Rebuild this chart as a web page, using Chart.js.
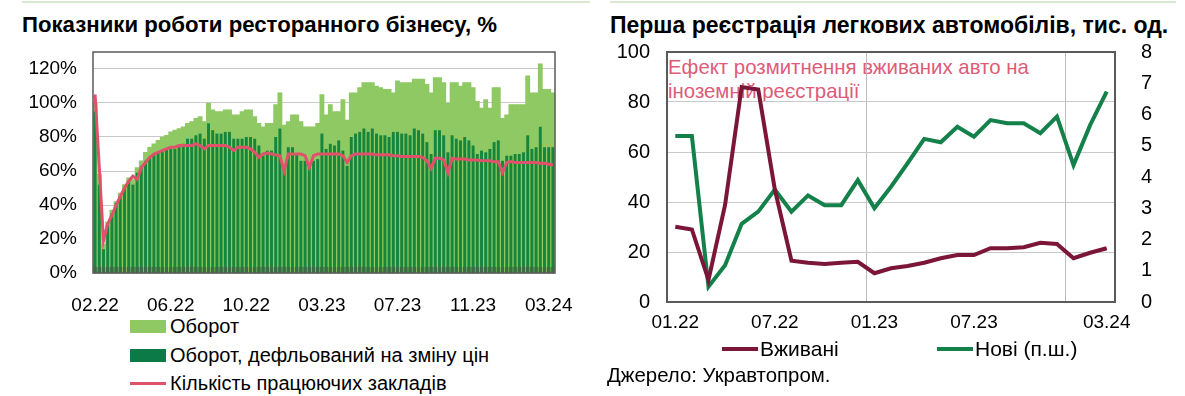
<!DOCTYPE html>
<html lang="uk">
<head>
<meta charset="utf-8">
<script src="https://cdn.jsdelivr.net/npm/chart.js@4.4.1/dist/chart.umd.min.js"></script>
<style>
  body { margin: 0; width: 1185px; height: 396px; background: #fff; position: relative; overflow: hidden;
         font-family: "Liberation Sans", Arial, sans-serif; color: #000; }
  .abs { position: absolute; white-space: nowrap; }
  .topline { top: 1px; height: 2px; background: #d8e9cf; }
  .title { font-weight: bold; line-height: 26px; }
  .leg { font-size: 20px; line-height: 22px; }
  .sw { position: absolute; }
  .note { font-size: 20.4px; line-height: 24px; color: #de5b78; }
</style>
</head>
<body>
<div class="abs topline" style="left:22px; width:568px;"></div>
<div class="abs topline" style="left:610px; width:566px;"></div>

<div class="abs title" style="left:22px; top:12px; font-size:22.2px;">Показники роботи ресторанного бізнесу, %</div>
<div class="abs title" style="left:610px; top:12px; font-size:23px;">Перша реєстрація легкових автомобілів, тис. од.</div>

<div class="abs" style="left:0; top:40px; width:580px; height:275px;">
  <canvas id="chart-rest" width="580" height="275"></canvas>
</div>

<div class="abs note" style="left:668px; top:55px;">Ефект розмитнення вживаних авто на<br>іноземній реєстрації</div>
<div class="abs" style="left:600px; top:40px; width:585px; height:298px;">
  <canvas id="chart-cars" width="585" height="298"></canvas>
</div>

<!-- left legend -->
<div class="abs leg" style="left:130px; top:315px;">
  <span class="sw" style="left:0; top:5px; width:36px; height:13px; background:#8ec963;"></span>
  <span style="margin-left:40px;">Оборот</span>
</div>
<div class="abs leg" style="left:130px; top:344px;">
  <span class="sw" style="left:0; top:5px; width:36px; height:13px; background:#0b7a47;"></span>
  <span style="margin-left:40px;">Оборот, дефльований на зміну цін</span>
</div>
<div class="abs leg" style="left:130px; top:372px;">
  <span class="sw" style="left:0; top:10px; width:36px; height:3px; background:#e0516c;"></span>
  <span style="margin-left:40px;">Кількість працюючих закладів</span>
</div>

<!-- right legend -->
<div class="abs leg" style="left:722px; top:338px; font-size:21px;">
  <span class="sw" style="left:0; top:9px; width:36px; height:4px; background:#7b1638;"></span>
  <span style="margin-left:38px;">Вживані</span>
</div>
<div class="abs leg" style="left:937px; top:338px; font-size:21px;">
  <span class="sw" style="left:0; top:9px; width:36px; height:4px; background:#14804a;"></span>
  <span style="margin-left:38px;">Нові (п.ш.)</span>
</div>
<div class="abs leg" style="left:607px; top:364px; font-size:20.4px;">Джерело: Укравтопром.</div>

<script>
// ---- restaurant business, weekly, % of pre-war level ----
const restTickIdx = [0, 18, 36, 54, 72, 90, 108];
const restTickText = ['02.22', '06.22', '10.22', '03.23', '07.23', '11.23', '03.24'];
const restYTicks = [0, 20, 40, 60, 80, 100, 120];

const turnover = [
  100, 58, 17, 30, 37, 42, 47, 52, 56, 55,
  62, 66, 71, 74, 76, 78, 80, 81, 83, 84,
  85, 86, 88, 89, 91, 92, 89, 100, 96, 95,
  95, 96, 96, 93, 93, 95, 96, 96, 92, 88,
  86, 88, 88, 99, 106, 87, 89, 93, 93, 89,
  86, 86, 86, 88, 105, 93, 99, 95, 95, 102,
  90, 106, 106, 109, 112, 112, 112, 110, 109, 108,
  108, 106, 113, 112, 112, 112, 114, 114, 114, 111,
  106, 115, 115, 112, 100, 112, 112, 110, 112, 112,
  109, 101, 97, 102, 97, 109, 109, 91, 93, 99,
  99, 99, 99, 116, 106, 106, 123, 108, 108, 106
];
const turnoverReal = [
  95, 52, 14, 28, 35, 41, 45, 50, 54, 52,
  59, 63, 66, 68, 70, 71, 72, 73, 73, 73,
  74, 76, 79, 79, 81, 82, 79, 88, 84, 82,
  82, 83, 83, 79, 79, 79, 80, 80, 79, 75,
  69, 72, 72, 80, 85, 62, 74, 74, 70, 66,
  66, 62, 66, 67, 82, 73, 76, 75, 78, 72,
  63, 80, 82, 83, 85, 83, 85, 82, 81, 81,
  80, 83, 83, 82, 82, 81, 85, 84, 82, 77,
  70, 84, 84, 81, 71, 81, 79, 78, 80, 78,
  75, 70, 72, 71, 73, 77, 78, 66, 69, 69,
  70, 70, 71, 81, 73, 74, 86, 74, 74, 74
];
const venues = [
  105, 62, 19, 29, 34, 40, 45, 50, 54, 57,
  55, 62, 65, 68, 70, 71, 72, 73, 74, 74,
  75, 75, 75, 75, 76, 75, 73, 75, 75, 75,
  75, 75, 74, 72, 74, 74, 74, 73, 71, 68,
  70, 70.5, 70, 69.5, 69, 60, 70, 70, 70, 70,
  69, 62, 69, 70, 70, 70, 70, 70, 70, 69,
  65, 69, 70, 70, 70, 70, 70, 69.5, 69.5, 69.5,
  69.5, 69, 69, 68.5, 68.5, 68.5, 68.5, 68.5, 68, 66,
  61.5, 67.5, 67.5, 66.5, 59, 67.5, 67, 67, 67, 66.5,
  66.5, 66.5, 66, 66, 66, 65.5, 65.5, 59, 65, 65.5,
  65, 65, 65, 65, 65, 65, 64.5, 64.5, 64, 63.5
];
const restLabels = turnover.map((_, i) => {
  const k = restTickIdx.indexOf(i);
  return k >= 0 ? restTickText[k] : '';
});

// ---- car registrations, monthly, thousand units ----
const carMonths = [
  '01.22', '02.22', '03.22', '04.22', '05.22', '06.22', '07.22', '08.22', '09.22', '10.22', '11.22', '12.22',
  '01.23', '02.23', '03.23', '04.23', '05.23', '06.23', '07.23', '08.23', '09.23', '10.23', '11.23', '12.23',
  '01.24', '02.24', '03.24'
];
const carTicks = ['01.22', '07.22', '01.23', '07.23', '03.24'];
const usedCars = [30.1, 29, 8.8, 38.8, 86, 85, 45, 16.5, 15.7, 15.2, 15.7, 16.1,
                  11.5, 13.5, 14.4, 15.7, 17.5, 18.8, 18.8, 21.5, 21.5, 21.9, 23.7, 23.2,
                  17.5, 19.7, 21.5];
const newCars = [5.31, 5.31, 0.49, 1.18, 2.5, 2.89, 3.6, 2.89, 3.41, 3.1, 3.1, 3.9,
                 3.0, 3.69, 4.44, 5.22, 5.11, 5.61, 5.29, 5.82, 5.72, 5.72, 5.4, 5.93,
                 4.38, 5.66, 6.73];

Chart.defaults.font.family = '"Liberation Sans", Arial, sans-serif';
Chart.defaults.color = '#000';

// fixed axis sizes so both plot boxes land where the original has them
const fixWidth = w => s => { s.width = w; s.paddingTop = 0; s.paddingBottom = 0; };
const fixHeight = h => s => { s.height = h; };

// plot frame (and the dark band along the bottom of the restaurant chart)
const framePlugin = {
  id: 'frame',
  afterDatasetsDraw(chart, args, opts) {
    const { ctx, chartArea: a } = chart;
    ctx.save();
    if (opts.band) {
      const xs = chart.scales.x;
      const w = (a.right - a.left) / chart.data.labels.length;
      ctx.fillStyle = opts.band;
      chart.data.labels.forEach((_, i) => {
        const cx = xs.getPixelForValue(i);
        ctx.fillRect(cx - w * 0.4, a.bottom - 6, w * 0.8, 6);
      });
    }
    ctx.strokeStyle = opts.color;
    ctx.lineWidth = opts.width;
    ctx.strokeRect(a.left, a.top, a.right - a.left, a.bottom - a.top);
    ctx.restore();
  }
};

new Chart(document.getElementById('chart-rest'), {
  type: 'bar',
  data: {
    labels: restLabels,
    datasets: [
      { label: 'Кількість працюючих закладів', type: 'line', data: venues, borderColor: '#e0516c',
        borderWidth: 3, pointRadius: 0, tension: 0, order: 1 },
      { label: 'Оборот, дефльований на зміну цін', data: turnoverReal, backgroundColor: '#17863d',
        barPercentage: 0.7, categoryPercentage: 1, grouped: false, order: 2 },
      { label: 'Оборот', data: turnover, backgroundColor: '#8ec963',
        barPercentage: 1, categoryPercentage: 1, grouped: false, order: 3 }
    ]
  },
  options: {
    responsive: false,
    animation: false,
    layout: { padding: { top: 12, right: 25, left: 0, bottom: 0 } },
    plugins: {
      legend: { display: false },
      tooltip: { enabled: false },
      frame: { color: '#5a5a5a', width: 1.5, band: '#3a6b45' }
    },
    scales: {
      x: {
        grid: { display: false },
        border: { display: false },
        ticks: { autoSkip: false, maxRotation: 0, minRotation: 0, padding: 13, font: { size: 19 } },
        afterFit: fixHeight(42)
      },
      y: {
        min: 0, max: 130,
        afterBuildTicks(s) { s.ticks = restYTicks.map(v => ({ value: v })); },
        grid: { color: '#c9c9c9', drawTicks: false },
        border: { display: false },
        ticks: { padding: 16, font: { size: 19 }, callback: v => v + '%' },
        afterFit: fixWidth(93)
      }
    }
  },
  plugins: [framePlugin]
});

new Chart(document.getElementById('chart-cars'), {
  type: 'line',
  data: {
    labels: carMonths,
    datasets: [
      { label: 'Вживані', data: usedCars, borderColor: '#7b1638', borderWidth: 4,
        pointRadius: 0, tension: 0, yAxisID: 'y' },
      { label: 'Нові (п.ш.)', data: newCars, borderColor: '#14804a', borderWidth: 4,
        pointRadius: 0, tension: 0, yAxisID: 'y1' }
    ]
  },
  options: {
    responsive: false,
    animation: false,
    layout: { padding: { top: 12, right: 0, left: 0, bottom: 0 } },
    plugins: {
      legend: { display: false },
      tooltip: { enabled: false },
      frame: { color: '#5a5a5a', width: 2 }
    },
    scales: {
      x: {
        offset: true,
        grid: { offset: true, drawTicks: false,
                color: c => (c.index === 12 || c.index === 24) ? '#bdbdbd' : 'rgba(0,0,0,0)' },
        border: { display: false },
        ticks: { autoSkip: false, maxRotation: 0, minRotation: 0, padding: 9, font: { size: 19 },
                 callback: (v, i) => carTicks.includes(carMonths[i]) ? carMonths[i] : '' },
        afterFit: fixHeight(36)
      },
      y: {
        min: 0, max: 100,
        grid: { color: '#c9c9c9', drawTicks: false },
        border: { display: false },
        ticks: { stepSize: 20, padding: 17, font: { size: 20 } },
        afterFit: fixWidth(67)
      },
      y1: {
        position: 'right',
        min: 0, max: 8,
        grid: { display: false, drawOnChartArea: false },
        border: { display: false },
        ticks: { stepSize: 1, padding: 18, font: { size: 20 } },
        afterFit: fixWidth(70)
      }
    }
  },
  plugins: [framePlugin]
});
</script>
</body>
</html>
